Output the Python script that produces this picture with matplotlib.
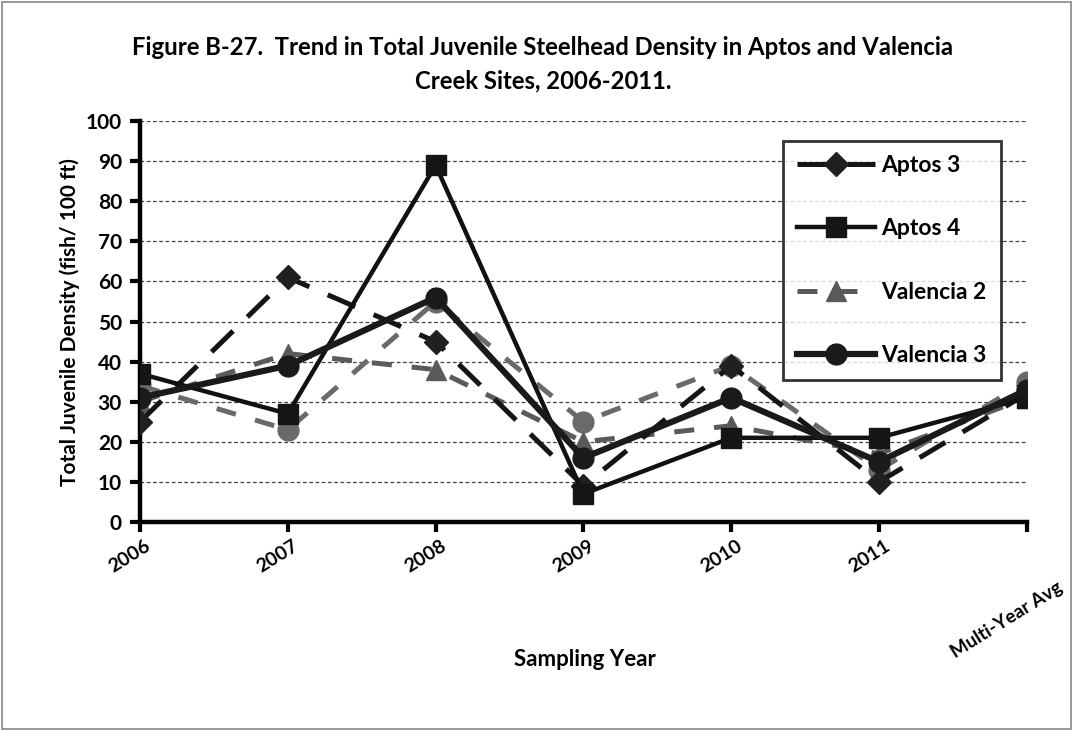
import matplotlib.pyplot as plt
from matplotlib.patches import Rectangle
import matplotlib.transforms as mtransforms

plt.rcParams['font.family'] = ['Lato', 'DejaVu Sans']
plt.rcParams['font.weight'] = 'bold'

# categories
years = ['2006', '2007', '2008', '2009', '2010', '2011', 'Multi-Year Avg']

# density values (fish / 100 ft)
aptos3 = [25, 61, 45, 9, 39, 10, 32]
aptos4 = [37, 27, 89, 7, 21, 21, 31]
valencia2 = [30, 42, 38, 20, 24, 17, 31]
valencia3 = [31, 39, 56, 16, 31, 15, 33]
extra_circle = [34, 23, 55, 25, 39, 13, 35]   # unlabelled gray circle series

x = list(range(len(years)))

fig = plt.figure(figsize=(10.73, 7.3), dpi=100)
ax = fig.add_axes([0.1305, 0.285, 0.8265, 0.549])

# series
ax.plot(x, extra_circle, color='#6a6a6a', lw=3.6, dashes=(4, 4),
        marker='o', ms=15, mfc='#6a6a6a', mec='#6a6a6a', label='_nolegend_', zorder=3)
ax.plot(x, valencia2, color='#5a5a5a', lw=3.6, dashes=(4, 4),
        marker='^', ms=15, mfc='#5a5a5a', mec='#5a5a5a', label='Valencia 2', zorder=4)
ax.plot(x, aptos3, color='#151515', lw=3.6, dashes=(6, 4),
        marker='D', ms=12, mfc='#202020', mec='#202020', label='Aptos 3', zorder=5)
ax.plot(x, aptos4, color='#111111', lw=3.2,
        marker='s', ms=15, mfc='#151515', mec='#151515', label='Aptos 4', zorder=6)
ax.plot(x, valencia3, color='#1a1a1a', lw=4.5,
        marker='o', ms=15, mfc='#1a1a1a', mec='#1a1a1a', label='Valencia 3', zorder=7)

ax.set_xlim(0, 6)
ax.set_ylim(0, 100)
ax.set_yticks(range(0, 101, 10))
ax.set_xticks(x)
ax.set_xticklabels(years, rotation=32, ha='center', va='top', fontsize=14, fontweight='bold')
ax.tick_params(axis='x', pad=4, length=7, width=3, direction='out')
ax.tick_params(axis='y', labelsize=15, pad=6, length=7, width=3, direction='out')
for lab in ax.get_yticklabels():
    lab.set_fontweight('bold')

# rotated labels sit a little left of their ticks; the long one sits lower
xlabs = ax.get_xticklabels()
for lab in xlabs[:-1]:
    lab.set_transform(lab.get_transform() +
                      mtransforms.ScaledTranslation(-0.1, 0, fig.dpi_scale_trans))
xlabs[-1].set_fontsize(13.5)
xlabs[-1].set_transform(xlabs[-1].get_transform() +
                        mtransforms.ScaledTranslation(-0.2, -0.42, fig.dpi_scale_trans))

ax.yaxis.grid(True, linestyle=(0, (3, 2)), color='#444444', linewidth=0.9)
ax.set_axisbelow(True)
for s in ['top', 'right']:
    ax.spines[s].set_visible(False)
ax.spines['left'].set_linewidth(3.2)
ax.spines['bottom'].set_linewidth(3.2)

ax.set_ylabel('Total Juvenile Density (fish/ 100 ft)', fontsize=15, fontweight='bold', labelpad=4)
fig.text(0.545, 0.096, 'Sampling Year', ha='center', va='center', fontsize=16, fontweight='bold')

fig.text(0.506, 0.935, 'Figure B-27.  Trend in Total Juvenile Steelhead Density in Aptos and Valencia',
         ha='center', va='center', fontsize=17.2, fontweight='bold')
fig.text(0.506, 0.889, 'Creek Sites, 2006-2011.',
         ha='center', va='center', fontsize=17.2, fontweight='bold')

handles, labels = ax.get_legend_handles_labels()
order = ['Aptos 3', 'Aptos 4', 'Valencia 2', 'Valencia 3']
hmap = dict(zip(labels, handles))
leg = ax.legend([hmap[k] for k in order], order, loc='upper left',
                bbox_to_anchor=(0.725, 0.95), fontsize=16.5, frameon=True,
                fancybox=False, handlelength=3.4, labelspacing=1.85,
                borderpad=0.6, handletextpad=0.3, borderaxespad=0)
leg.get_frame().set_edgecolor('black')
leg.get_frame().set_linewidth(2)
for t in leg.get_texts():
    t.set_fontweight('bold')

fig.add_artist(Rectangle((0.002, 0.002), 0.996, 0.995, transform=fig.transFigure,
                         fill=False, edgecolor='#888888', linewidth=1.2))

fig.savefig('out.png', dpi=100)
